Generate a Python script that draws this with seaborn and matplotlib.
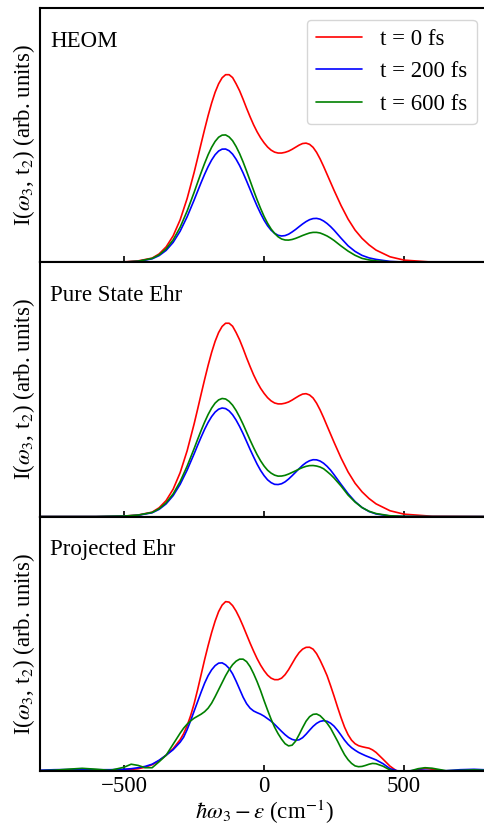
import matplotlib
matplotlib.use("Agg")
import matplotlib.pyplot as plt
import seaborn as sns
import pandas as pd

# frequency grids (cm^-1)
x_main = [-800, -600, -500, -450, -400, -375, -350, -325, -300, -275,
          -250, -237.5, -225, -212.5, -200, -187.5, -175, -162.5, -150, -137.5,
          -125, -112.5, -100, -87.5, -75, -62.5, -50, -37.5, -25, -12.5,
          0, 12.5, 25, 37.5, 50, 62.5, 75, 87.5, 100, 112.5,
          125, 137.5, 150, 162.5, 175, 187.5, 200, 212.5, 225, 237.5,
          250, 275, 300, 325, 350, 375, 400, 450, 500, 600, 800]
x_proj = [-800, -750, -700, -650, -600, -550, -500, -475, -450, -425,
          -400, -375, -350, -325, -300, -287.5, -275, -262.5, -250, -237.5,
          -225, -212.5, -200, -187.5, -175, -162.5, -150, -137.5, -125, -112.5,
          -100, -87.5, -75, -62.5, -50, -37.5, -25, -12.5, 0, 12.5,
          25, 37.5, 50, 62.5, 75, 87.5, 100, 112.5, 125, 137.5,
          150, 162.5, 175, 187.5, 200, 212.5, 225, 237.5, 250, 262.5,
          275, 287.5, 300, 312.5, 325, 337.5, 350, 362.5, 375, 387.5,
          400, 425, 450, 475, 500, 525, 550, 575, 600, 650,
          700, 750, 800]

# HEOM
heom_t0 = [0, 0, 0.5, 1.5, 4.3, 8.5, 15.5, 26.5, 42.5, 63.8,
           89.9, 104.2, 118.7, 133.0, 146.7, 159.2, 170.0, 178.5, 184.5, 187.6,
           187.6, 184.7, 178.5, 171.5, 163.0, 154.0, 145.5, 137.5, 130.5, 124.5,
           119.5, 115.3, 112.2, 110.2, 109.3, 109.3, 110.0, 111.2, 113.0, 115.1,
           117.2, 118.8, 119.2, 118.0, 115.0, 110.0, 103.5, 96.0, 88.0, 80.0,
           72.0, 56.8, 43.3, 32.3, 24.0, 17.5, 12.3, 5.6, 2.3, 0.3, 0]
heom_t200 = [0, 0, 0.4, 1.0, 3.6, 6.8, 12.0, 20.0, 31.2, 45.6,
             62.3, 71.1, 79.8, 88.1, 95.7, 102.3, 107.6, 111.3, 113.2, 113.3,
             111.6, 108.2, 103.1, 96.8, 89.4, 81.3, 72.9, 64.4, 56.3, 48.9,
             42.2, 36.6, 32.2, 29.1, 27.1, 26.4, 26.8, 28.2, 30.4, 32.9,
             35.7, 38.4, 40.8, 42.7, 43.8, 44.0, 43.2, 41.4, 38.9, 35.8,
             32.2, 24.2, 16.6, 11.0, 7.0, 4.5, 3.0, 1.0, 0.3, 0, 0]
heom_t600 = [0, 0, 0.4, 1.2, 4.0, 7.6, 13.5, 22.5, 35.1, 51.3,
             70.0, 79.9, 89.7, 99.0, 107.6, 115.0, 120.9, 125.1, 127.2, 127.4,
             125.4, 121.6, 115.8, 108.7, 100.4, 91.2, 81.6, 71.9, 62.6, 53.9,
             45.9, 39.1, 33.4, 29.0, 25.6, 23.4, 22.4, 22.3, 22.9, 24.0,
             25.4, 26.9, 28.2, 29.4, 30.0, 30.0, 29.4, 28.0, 26.4, 24.3,
             21.9, 16.4, 11.3, 7.1, 4.0, 2.5, 1.5, 0.5, 0.1, 0, 0]

# Pure State Ehrenfest
pure_t0 = [0, 0, 0.5, 1.5, 4.4, 8.8, 16.0, 27.3, 43.8, 65.7,
           92.6, 107.3, 122.3, 137.0, 151.1, 164.0, 175.1, 183.9, 190.0, 193.2,
           193.2, 190.2, 183.9, 176.6, 167.9, 158.6, 149.9, 141.6, 134.4, 128.2,
           123.1, 118.8, 115.6, 113.5, 112.6, 112.6, 113.3, 114.5, 116.4, 118.6,
           120.7, 122.4, 122.8, 121.5, 118.5, 113.3, 106.6, 98.9, 90.6, 82.4,
           74.2, 58.5, 44.6, 33.3, 24.7, 18.0, 12.7, 5.8, 2.4, 0.3, 0]
pure_t200 = [0, 0, 0.4, 1.3, 3.8, 7.2, 12.7, 20.9, 32.2, 46.4,
             62.7, 71.2, 79.4, 87.2, 94.1, 99.9, 104.4, 107.3, 108.5, 107.9,
             105.6, 101.7, 96.4, 90.0, 82.8, 75.0, 67.1, 59.6, 52.4, 46.1,
             40.9, 36.7, 33.9, 32.2, 32.0, 32.8, 34.7, 37.5, 40.8, 44.3,
             47.8, 51.2, 53.9, 55.8, 56.8, 56.7, 55.5, 53.3, 50.2, 46.4,
             41.8, 32.2, 22.9, 15.0, 9.0, 5.0, 2.6, 0.5, 0.1, 0, 0]
pure_t600 = [0, 0, 0.5, 1.5, 4.1, 7.8, 13.8, 22.6, 34.9, 50.3,
             67.9, 77.1, 86.0, 94.4, 102.0, 108.4, 113.4, 116.6, 118.0, 117.5,
             115.1, 111.3, 106.0, 99.5, 92.2, 84.3, 76.4, 68.9, 61.9, 55.7,
             50.5, 46.3, 43.4, 41.4, 40.4, 40.5, 41.2, 42.5, 44.1, 45.7,
             47.5, 49.0, 50.2, 50.9, 51.0, 50.5, 49.5, 47.8, 45.0, 42.0,
             38.5, 30.5, 21.5, 14.5, 9.0, 5.3, 3.0, 0.8, 0.2, 0, 0]

# Projected Ehrenfest
proj_t0 = [0, 0.3, 0, -0.3, 0.3, 0.8, 1.0, 1.3, 2.0, 3.5,
           6.0, 10.0, 15.5, 22.0, 31.0, 37.0, 45.0, 55.0, 67.0, 81.0,
           96.0, 111.0, 125.0, 138.0, 149.5, 159.0, 165.5, 169.0, 168.5, 165.0,
           159.5, 152.5, 144.5, 136.0, 127.5, 119.5, 112.0, 105.5, 100.0, 95.5,
           92.5, 91.0, 91.0, 92.5, 96.0, 101.0, 107.0, 113.0, 118.0, 121.5,
           123.3, 123.4, 121.5, 117.0, 110.5, 103.0, 95.0, 85.0, 74.5, 63.5,
           53.0, 43.5, 36.0, 30.5, 27.0, 25.0, 24.0, 23.2, 22.5, 20.8,
           18.3, 11.5, 4.5, -0.5, -2.0, -1.5, 0.8, 2.4, 1.5, -0.5,
           -0.5, 0.5, 0]
proj_t200 = [0.5, 1.0, 1.2, 1.5, 1.0, 1.0, 1.5, 2.0, 3.0, 4.3,
             6.5, 10.5, 15.5, 21.0, 28.5, 33.5, 41.0, 50.0, 59.5, 69.0,
             78.5, 87.5, 95.0, 100.8, 105.0, 107.5, 107.8, 105.8, 102.3, 96.8,
             89.5, 81.5, 73.5, 67.0, 62.5, 59.7, 58.0, 56.5, 54.5, 52.0,
             49.5, 46.3, 42.8, 39.3, 36.0, 33.2, 31.3, 30.4, 30.9, 33.0,
             36.5, 40.5, 44.3, 47.3, 49.3, 50.0, 49.4, 47.5, 44.5, 40.3,
             35.5, 30.5, 26.3, 23.0, 20.5, 18.3, 16.6, 15.0, 13.6, 12.2,
             10.8, 7.0, 2.0, 0, -0.5, 0, 0.5, 0.5, 0, 0,
             1.0, 1.4, 0.8]
proj_t600 = [0, 0.5, 1.5, 2.4, 1.5, 0.3, 3.5, 6.5, 5.3, 3.0,
             3.0, 9.0, 15.5, 26.5, 37.5, 42.5, 46.5, 49.8, 52.5, 54.5,
             56.5, 59.0, 62.5, 67.5, 74.0, 81.0, 88.0, 95.0, 101.0, 106.0,
             109.5, 111.5, 111.5, 109.0, 104.0, 97.0, 89.0, 80.0, 70.0, 60.5,
             51.5, 43.5, 37.0, 31.5, 27.0, 24.8, 25.5, 29.5, 36.0, 43.0,
             49.5, 54.0, 56.3, 56.7, 55.0, 51.5, 47.5, 42.5, 36.0, 29.5,
             22.5, 16.0, 11.0, 7.3, 4.8, 4.0, 4.3, 5.3, 6.5, 7.3,
             7.0, 4.5, 0.7, -1.0, -1.0, 0, 2.0, 3.0, 2.5, 0,
             0.3, 0.8, 0.3]

labels = ["t = 0 fs", "t = 200 fs", "t = 600 fs"]
colors = ["red", "blue", "green"]
panels = [
    ("HEOM", x_main, [heom_t0, heom_t200, heom_t600]),
    ("Pure State Ehr", x_main, [pure_t0, pure_t200, pure_t600]),
    ("Projected Ehr", x_proj, [proj_t0, proj_t200, proj_t600]),
]

sns.set_style("ticks")
plt.rcParams["font.family"] = ["Liberation Serif", "DejaVu Serif"]
plt.rcParams["mathtext.fontset"] = "stix"
plt.rcParams["axes.linewidth"] = 1.5
plt.rcParams["axes.edgecolor"] = "black"
plt.rcParams["axes.labelcolor"] = "black"
plt.rcParams["text.color"] = "black"
plt.rcParams["xtick.color"] = "black"
plt.rcParams["xtick.direction"] = "in"
plt.rcParams["axes.unicode_minus"] = True

fs = 16.5
fig, axes = plt.subplots(3, 1, figsize=(4.84, 8.25), dpi=100, sharex=True)
fig.subplots_adjust(left=0.083, right=1.0083, top=0.990, bottom=0.0658, hspace=0)

for i, (ax, (name, xs, series)) in enumerate(zip(axes, panels)):
    for ys, lab, c in zip(series, labels, colors):
        df = pd.DataFrame({"x": xs, "y": ys})
        sns.lineplot(data=df, x="x", y="y", color=c, lw=1.2,
                     label=lab if i == 0 else None, ax=ax)
    ax.set_xlim(-800, 800)
    ax.set_ylim(0, 254)
    ax.set_yticks([])
    ax.set_xticks([-500, 0, 500])
    ax.tick_params(axis="x", labelsize=fs, width=1.2, length=4, colors="black")
    ax.set_ylabel(r"I($\omega_3$, t$_2$) (arb. units)", fontsize=fs, labelpad=2)
    ax.set_xlabel("")
    ax.text(0.022, 0.912, name, transform=ax.transAxes, ha="left", va="top", fontsize=fs)
    if i == 0:
        ax.legend(loc="upper right", fontsize=fs, handlelength=2.0,
                  frameon=True, fancybox=True, edgecolor="0.8", framealpha=0.8)
    elif ax.get_legend() is not None:
        ax.get_legend().remove()

axes[-1].set_xlabel(r"$\hbar\omega_3 - \varepsilon$ (cm$^{-1}$)", fontsize=fs, labelpad=1)

fig.savefig("out.png", dpi=100)
